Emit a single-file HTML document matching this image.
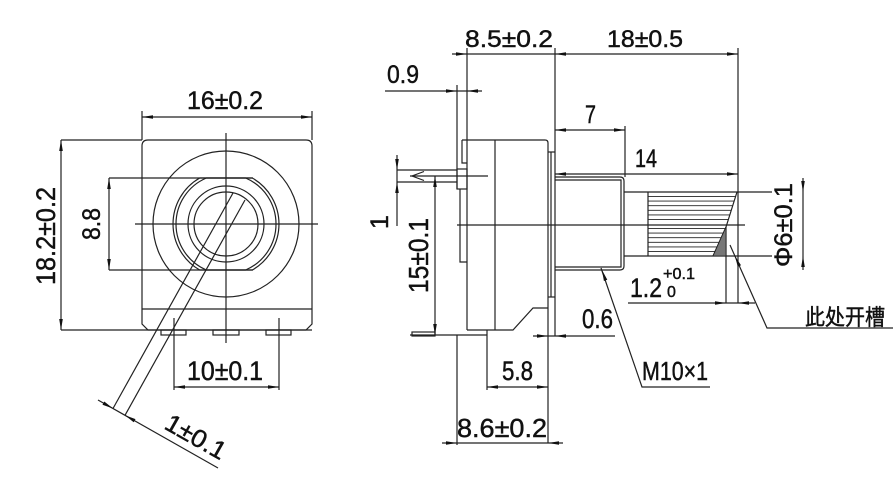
<!DOCTYPE html>
<html><head><meta charset="utf-8"><style>
html,body{margin:0;padding:0;background:#fff;}
svg{display:block;}
text{font-family:"Liberation Sans","Noto Sans CJK SC",sans-serif;fill:#111;stroke:#111;stroke-width:0.45;}
</style></head><body>
<svg width="895" height="478" viewBox="0 0 895 478" xmlns="http://www.w3.org/2000/svg">
<rect width="895" height="478" fill="#fff"/>
<g stroke="#222" stroke-width="1.2" fill="none">
<!-- LEFT VIEW -->
<line x1="142" y1="111" x2="142" y2="140"/>
<line x1="312" y1="111" x2="312" y2="140"/>
<line x1="142" y1="117" x2="312" y2="117"/>
<line x1="61" y1="140" x2="61" y2="330"/>
<line x1="61" y1="140" x2="142" y2="140"/>
<line x1="61" y1="330" x2="312" y2="330"/>
<path d="M148,140 H306 Q312,140 312,146 V324 L306,330 H148 L142,324 V146 Q142,140 148,140 Z"/>
<line x1="142" y1="309" x2="312" y2="309"/>
<line x1="109" y1="178" x2="253" y2="178"/>
<line x1="109" y1="270" x2="253" y2="270"/>
<line x1="109" y1="178" x2="109" y2="270"/>
<line x1="135" y1="224" x2="318" y2="224"/>
<line x1="226" y1="133" x2="226" y2="343"/>
<circle cx="226" cy="224" r="73"/>
<path d="M199.7,178 H252.3 A53,53 0 0 1 252.3,270 H199.7 A53,53 0 0 1 199.7,178 Z"/>
<path d="M206.4,178 H245.6 A50,50 0 0 1 245.6,270 H206.4 A50,50 0 0 1 206.4,178 Z"/>
<circle cx="226" cy="224" r="38"/>
<circle cx="226" cy="224" r="32"/>
<line x1="233" y1="193" x2="113" y2="408.5"/>
<line x1="245" y1="200" x2="125" y2="415.3"/>
<line x1="98" y1="400" x2="218" y2="468"/>
<rect x="161" y="330" width="25" height="5"/>
<rect x="213" y="330" width="26" height="5"/>
<rect x="266" y="330" width="25" height="5"/>
<line x1="174" y1="318" x2="174" y2="390"/>
<line x1="279" y1="318" x2="279" y2="390"/>
<line x1="174" y1="387" x2="279" y2="387"/>

<!-- RIGHT VIEW -->
<line x1="452" y1="54" x2="738" y2="54"/>
<line x1="467" y1="48" x2="467" y2="330"/>
<line x1="555" y1="48" x2="555" y2="336"/>
<line x1="738" y1="48" x2="738" y2="303"/>
<line x1="385" y1="91" x2="482" y2="91"/>
<line x1="457" y1="85" x2="457" y2="189"/>
<path d="M462,140 V163 H467 M462,140 H467"/>
<rect x="457" y="169" width="10" height="20"/>
<path d="M460,189 V262 H467"/>
<line x1="397" y1="170" x2="457" y2="170"/>
<line x1="397" y1="182" x2="457" y2="182"/>
<polyline points="424,171.5 412,176 424,180.5"/>
<line x1="410" y1="176" x2="488" y2="176"/>
<line x1="397" y1="155" x2="397" y2="226"/>
<line x1="435" y1="176" x2="435" y2="335"/>
<line x1="410" y1="335" x2="487" y2="335"/>
<rect x="412" y="332" width="23" height="4"/>
<path d="M467,330 H513 L533,308 H548"/>
<path d="M467,140 H545 Q548,140 548,143 V443"/>
<line x1="495" y1="140" x2="495" y2="330"/>
<line x1="548" y1="152" x2="555" y2="152"/>
<line x1="548" y1="297" x2="555" y2="297"/>
<line x1="551" y1="152" x2="551" y2="297"/>
<path d="M555,177 H620 Q624,177 624,181 V266 Q624,270 620,270 H555"/>
<path d="M555,180 H621 V267 H555"/>
<line x1="624" y1="192" x2="772" y2="192"/>
<line x1="624" y1="256" x2="772" y2="256"/>
<line x1="648" y1="192" x2="648" y2="256"/>
<path d="M737,192 L726,227 L713,256"/>
<g stroke-width="0.9">
<line x1="648" y1="196.6" x2="735.6" y2="196.6"/>
<line x1="648" y1="201.1" x2="734.1" y2="201.1"/>
<line x1="648" y1="205.7" x2="732.7" y2="205.7"/>
<line x1="648" y1="210.3" x2="731.3" y2="210.3"/>
<line x1="648" y1="214.9" x2="729.8" y2="214.9"/>
<line x1="648" y1="219.4" x2="728.4" y2="219.4"/>
<line x1="648" y1="228.6" x2="725.3" y2="228.6"/>
<line x1="648" y1="233.1" x2="723.2" y2="233.1"/>
<line x1="648" y1="237.7" x2="721.2" y2="237.7"/>
<line x1="648" y1="242.3" x2="719.1" y2="242.3"/>
<line x1="648" y1="246.9" x2="717.1" y2="246.9"/>
<line x1="648" y1="251.4" x2="715.1" y2="251.4"/>
</g>
<line x1="726" y1="227" x2="726" y2="303"/>
<line x1="457" y1="225" x2="745" y2="225"/>
<line x1="555" y1="130" x2="625" y2="130"/>
<line x1="625" y1="126" x2="625" y2="177"/>
<line x1="555" y1="174" x2="738" y2="174"/>
<line x1="803" y1="178" x2="803" y2="270"/>
<line x1="628" y1="303" x2="755" y2="303"/>
<path d="M730,245 L767,328 H893"/>
<path d="M601,268 L642,387 H710"/>
<line x1="533" y1="336" x2="615" y2="336"/>
<line x1="487" y1="330" x2="487" y2="390"/>
<line x1="487" y1="387" x2="548" y2="387"/>
<line x1="457" y1="335" x2="457" y2="445"/>
<line x1="442" y1="443" x2="563" y2="443"/>
</g>
<polygon points="726,227 726,256 713,256" fill="#777" stroke="#222" stroke-width="0.8"/>

<!-- ARROWS -->
<g fill="#111">
<polygon points="142,117 153,115.2 153,118.8"/>
<polygon points="312,117 301,115.2 301,118.8"/>
<polygon points="61,140 59.2,151 62.8,151"/>
<polygon points="61,330 59.2,319 62.8,319"/>
<polygon points="109,178 107.2,189 110.8,189"/>
<polygon points="109,270 107.2,259 110.8,259"/>
<polygon points="174,387 185,385.2 185,388.8"/>
<polygon points="279,387 268,385.2 268,388.8"/>
<polygon points="113,408.5 104.3,401.5 102.5,404.7"/>
<polygon points="125,415.3 135.5,419.1 133.7,422.3"/>
<polygon points="467,54 456,52.2 456,55.8"/>
<polygon points="555,54 566,52.2 566,55.8"/>
<polygon points="738,54 727,52.2 727,55.8"/>
<polygon points="457,91 446,89.2 446,92.8"/>
<polygon points="467,91 478,89.2 478,92.8"/>
<polygon points="397,170 395.2,159 398.8,159"/>
<polygon points="397,182 395.2,193 398.8,193"/>
<polygon points="435,176 433.2,187 436.8,187"/>
<polygon points="435,335 433.2,324 436.8,324"/>
<polygon points="555,130 566,128.2 566,131.8"/>
<polygon points="625,130 614,128.2 614,131.8"/>
<polygon points="555,174 566,172.2 566,175.8"/>
<polygon points="738,174 727,172.2 727,175.8"/>
<polygon points="803,192 801.2,181 804.8,181"/>
<polygon points="803,256 801.2,267 804.8,267"/>
<polygon points="726,303 715,301.2 715,304.8"/>
<polygon points="738,303 749,301.2 749,304.8"/>
<polygon points="734.9,256 741,265.3 737.8,266.7"/>
<polygon points="602,270 607.3,279.8 603.9,281"/>
<polygon points="548,336 537,334.2 537,337.8"/>
<polygon points="555,336 566,334.2 566,337.8"/>
<polygon points="487,387 498,385.2 498,388.8"/>
<polygon points="548,387 537,385.2 537,388.8"/>
<polygon points="457,443 446,441.2 446,444.8"/>
<polygon points="548,443 559,441.2 559,444.8"/>
</g>

<!-- TEXT -->
<g font-size="25">
<text x="187" y="109" textLength="76" lengthAdjust="spacingAndGlyphs">16±0.2</text>
<text transform="translate(55,285) rotate(-90)" font-size="27" textLength="98" lengthAdjust="spacingAndGlyphs">18.2±0.2</text>
<text transform="translate(100,240) rotate(-90)" textLength="32" lengthAdjust="spacingAndGlyphs">8.8</text>
<text x="187" y="380" font-size="27" textLength="76" lengthAdjust="spacingAndGlyphs">10±0.1</text>
<text transform="translate(163,428) rotate(29.5)" textLength="66" lengthAdjust="spacingAndGlyphs">1±0.1</text>
<text x="465" y="47" font-size="24" textLength="88" lengthAdjust="spacingAndGlyphs">8.5±0.2</text>
<text x="607" y="47" font-size="24" textLength="76" lengthAdjust="spacingAndGlyphs">18±0.5</text>
<text x="387" y="83" textLength="32" lengthAdjust="spacingAndGlyphs">0.9</text>
<text x="585" y="123" textLength="11" lengthAdjust="spacingAndGlyphs">7</text>
<text x="635" y="167" textLength="22" lengthAdjust="spacingAndGlyphs">14</text>
<text transform="translate(388,222) rotate(-90)" text-anchor="middle">1</text>
<text transform="translate(428,293) rotate(-90)" font-size="28" textLength="75" lengthAdjust="spacingAndGlyphs">15±0.1</text>
<text transform="translate(792,267) rotate(-90)" textLength="84" lengthAdjust="spacingAndGlyphs">Φ6±0.1</text>
<text x="630" y="297" font-size="27" textLength="32" lengthAdjust="spacingAndGlyphs">1.2</text>
<text x="663" y="279" font-size="16" textLength="32" lengthAdjust="spacingAndGlyphs">+0.1</text>
<text x="667" y="297" font-size="16">0</text>
<text x="582" y="328" font-size="27" textLength="31" lengthAdjust="spacingAndGlyphs">0.6</text>
<text x="502" y="380" font-size="27" textLength="31" lengthAdjust="spacingAndGlyphs">5.8</text>
<text x="457" y="437" font-size="26" textLength="90" lengthAdjust="spacingAndGlyphs">8.6±0.2</text>
<text x="642" y="380" font-size="26" textLength="66" lengthAdjust="spacingAndGlyphs">M10×1</text>
<text x="805" y="325" font-size="22" textLength="80" lengthAdjust="spacingAndGlyphs">此处开槽</text>
</g>
</svg>
</body></html>
